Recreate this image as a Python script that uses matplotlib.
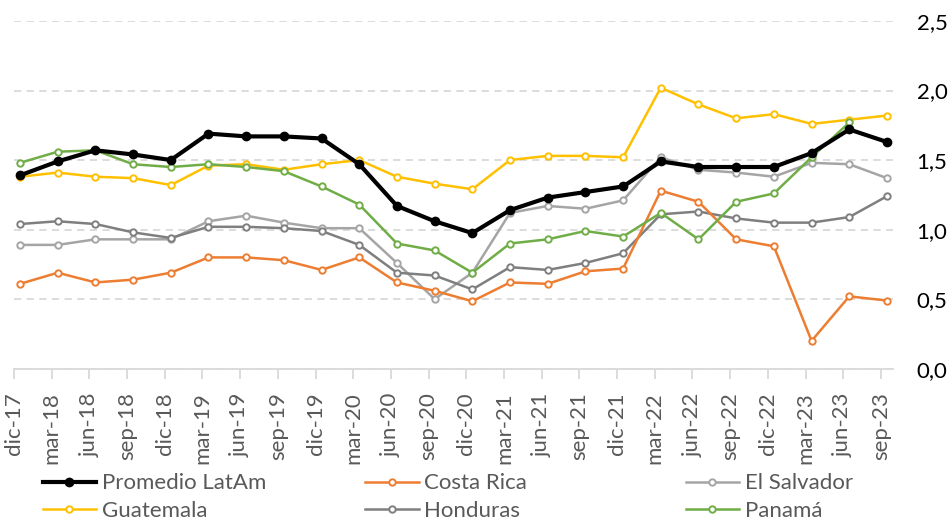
import numpy as np
import matplotlib
matplotlib.use("Agg")
import matplotlib.pyplot as plt
from matplotlib.lines import Line2D
from matplotlib.ticker import FuncFormatter

plt.rcParams['font.family'] = ['Lato', 'DejaVu Sans']

periods = ["dic-17", "mar-18", "jun-18", "sep-18", "dic-18", "mar-19", "jun-19", "sep-19",
           "dic-19", "mar-20", "jun-20", "sep-20", "dic-20", "mar-21", "jun-21", "sep-21",
           "dic-21", "mar-22", "jun-22", "sep-22", "dic-22", "mar-23", "jun-23", "sep-23"]

promedio = [1.39, 1.49, 1.57, 1.54, 1.50, 1.69, 1.67, 1.67, 1.655, 1.47, 1.17, 1.06,
            0.975, 1.14, 1.23, 1.27, 1.31, 1.49, 1.45, 1.45, 1.45, 1.55, 1.72, 1.63]
costa_rica = [0.61, 0.69, 0.62, 0.64, 0.69, 0.80, 0.80, 0.78, 0.71, 0.80, 0.62, 0.56,
              0.485, 0.62, 0.61, 0.70, 0.72, 1.28, 1.20, 0.93, 0.88, 0.20, 0.52, 0.49]
el_salvador = [0.89, 0.89, 0.93, 0.93, 0.93, 1.06, 1.10, 1.05, 1.01, 1.01, 0.76, 0.50,
               0.69, 1.12, 1.17, 1.15, 1.21, 1.52, 1.43, 1.41, 1.38, 1.48, 1.47, 1.37]
guatemala = [1.38, 1.41, 1.38, 1.37, 1.32, 1.46, 1.47, 1.43, 1.47, 1.50, 1.38, 1.33,
             1.29, 1.50, 1.53, 1.53, 1.52, 2.02, 1.90, 1.80, 1.83, 1.76, 1.79, 1.82]
honduras = [1.04, 1.06, 1.04, 0.98, 0.94, 1.02, 1.02, 1.01, 0.99, 0.89, 0.69, 0.67,
            0.57, 0.73, 0.71, 0.76, 0.83, 1.11, 1.13, 1.08, 1.05, 1.05, 1.09, 1.24]
panama = [1.48, 1.56, 1.57, 1.47, 1.45, 1.47, 1.45, 1.42, 1.31, 1.18, 0.90, 0.85,
          0.69, 0.90, 0.93, 0.99, 0.95, 1.12, 0.93, 1.20, 1.26, 1.52, 1.77, np.nan]

series = [
    ("Promedio LatAm", promedio, "#000000"),
    ("Costa Rica", costa_rica, "#ED7D31"),
    ("El Salvador", el_salvador, "#A5A5A5"),
    ("Guatemala", guatemala, "#FFC000"),
    ("Honduras", honduras, "#7F7F7F"),
    ("Panamá", panama, "#70AD47"),
]

fig = plt.figure(figsize=(9.51, 5.24), dpi=100)
ax = fig.add_axes([0.0147, 0.2964, 0.9243, 0.6636])

n = len(periods)
offset = 0.16
xs = np.arange(n) + offset

draw_order = [2, 4, 1, 3, 5, 0]
handles = {}
for idx in draw_order:
    name, vals, col = series[idx]
    if idx == 0:
        ln, = ax.plot(xs, vals, color=col, lw=3.0, marker='o', ms=5.5,
                      mfc='#000000', mec=col, mew=1.5, zorder=10, label=name)
    else:
        ln, = ax.plot(xs, vals, color=col, lw=1.8, marker='o', ms=4.6,
                      mfc='white', mec=col, mew=1.4, zorder=5, label=name)
    handles[name] = ln

ax.set_xlim(0, 23.32)
ax.set_ylim(0, 2.5)
ax.set_xticks(np.arange(n))
ax.set_xticklabels(periods, rotation=90, color='#595959', fontsize=16)
ax.set_yticks(np.arange(0, 2.51, 0.5))
ax.yaxis.set_major_formatter(FuncFormatter(lambda v, p: f"{v:.1f}".replace('.', ',')))
ax.yaxis.tick_right()
ax.tick_params(axis='y', length=0, pad=17, labelsize=16, labelcolor='#000000')
ax.tick_params(axis='x', length=7, width=1.3, color='#D9D9D9', pad=10)

for s in ['top', 'left', 'right']:
    ax.spines[s].set_visible(False)
ax.spines['bottom'].set_color('#D9D9D9')
ax.spines['bottom'].set_linewidth(1.3)

ax.yaxis.grid(True, color='#D9D9D9', lw=1.3, ls=(0, (4, 3)))
ax.set_axisbelow(True)
ax.set_facecolor('white')

# legend: three columns of two rows, equal column widths
cols = [["Promedio LatAm", "Guatemala"], ["Costa Rica", "Honduras"], ["El Salvador", "Panamá"]]
xpos = [0.045, 0.384, 0.721]
for names, x0 in zip(cols, xpos):
    hs = []
    for nm in names:
        h = handles[nm]
        hs.append(Line2D([], [], color=h.get_color(), lw=h.get_linewidth(),
                         marker='o', ms=h.get_markersize(), mfc=h.get_markerfacecolor(),
                         mec=h.get_markeredgecolor(), mew=h.get_markeredgewidth()))
    fig.legend(hs, names, loc='upper left', bbox_to_anchor=(x0, 0.0964),
               bbox_transform=fig.transFigure, frameon=False, fontsize=16,
               labelcolor='#595959', handlelength=2.4, handletextpad=0.25,
               labelspacing=0.33, borderaxespad=0, borderpad=0)

fig.savefig("out.png", dpi=100, facecolor='white')
